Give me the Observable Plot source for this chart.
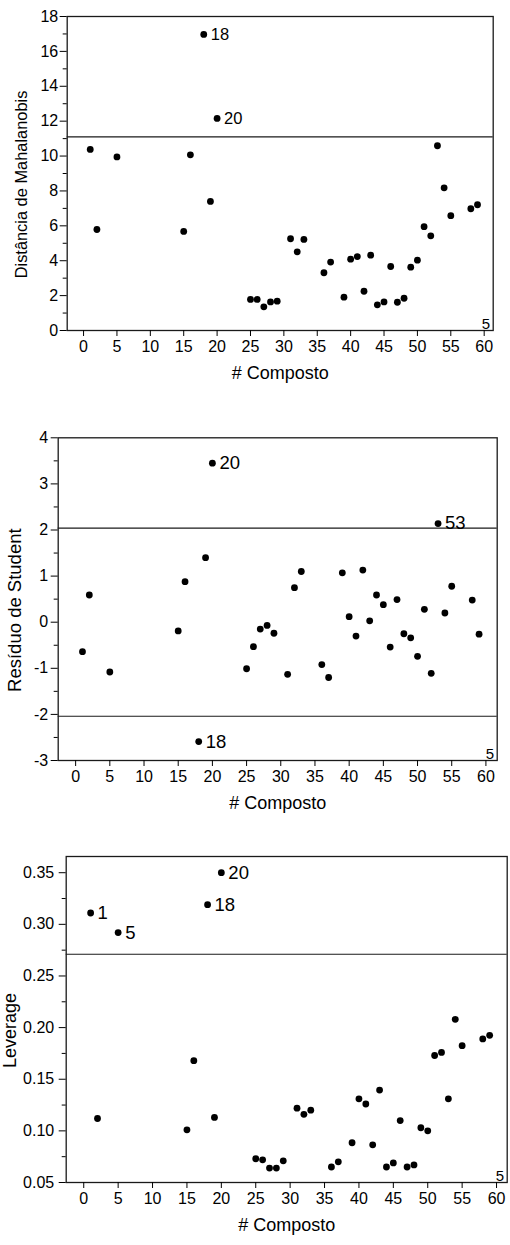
<!DOCTYPE html>
<html>
<head>
<meta charset="utf-8">
<script src="https://cdn.jsdelivr.net/npm/d3@7"></script>
<script src="https://cdn.jsdelivr.net/npm/@observablehq/plot@0.6"></script>
<style>
  html, body { margin: 0; padding: 0; background: #fff; }
  #chart { width: 510px; height: 1245px; overflow: hidden; }
  #chart svg { display: block; }
</style>
</head>
<body>
<div id="chart"></div>
<script>
// ---- data ----
const compounds = [1, 2, 5, 15, 16, 18, 19, 20, 25, 26, 27, 28, 29, 31, 32, 33, 36, 37, 39, 40, 41, 42, 43, 44, 45, 46, 47, 48, 49, 50, 51, 52, 53, 54, 55, 58, 59];
const mahalanobis = [10.38, 5.79, 9.95, 5.68, 10.07, 16.97, 7.40, 12.16, 1.78, 1.78, 1.36, 1.64, 1.68, 5.26, 4.51, 5.22, 3.31, 3.92, 1.91, 4.09, 4.24, 2.25, 4.32, 1.47, 1.64, 3.67, 1.62, 1.85, 3.63, 4.03, 5.95, 5.43, 10.59, 8.18, 6.58, 6.98, 7.21];
const student = [-0.64, 0.59, -1.08, -0.19, 0.88, -2.59, 1.40, 3.45, -1.01, -0.53, -0.15, -0.07, -0.24, -1.13, 0.75, 1.10, -0.92, -1.20, 1.07, 0.12, -0.30, 1.13, 0.03, 0.59, 0.38, -0.54, 0.49, -0.25, -0.34, -0.74, 0.28, -1.11, 2.14, 0.20, 0.78, 0.48, -0.26];
const leverage = [0.311, 0.112, 0.292, 0.101, 0.168, 0.319, 0.113, 0.350, 0.073, 0.072, 0.064, 0.064, 0.071, 0.122, 0.116, 0.120, 0.065, 0.070, 0.0885, 0.131, 0.126, 0.0865, 0.1395, 0.065, 0.069, 0.110, 0.065, 0.067, 0.103, 0.100, 0.173, 0.176, 0.131, 0.208, 0.1825, 0.189, 0.1925];

const mahalanobisLabeled = [18, 20];
const studentLabeled = [20, 53, 18];
const leverageLabeled = [1, 5, 18, 20];

const mahalanobisLimit = [11.1];
const studentLimits = [2.04, -2.04];
const leverageLimit = [0.271];

const xTicks = [0, 5, 10, 15, 20, 25, 30, 35, 40, 45, 50, 55, 60];
const mahalanobisTicks = [0, 2, 4, 6, 8, 10, 12, 14, 16, 18];
const mahalanobisMinor = [1, 3, 5, 7, 9, 11, 13, 15, 17];
const studentTicks = [-3, -2, -1, 0, 1, 2, 3, 4];
const studentMinor = [-2.5, -1.5, -0.5, 0.5, 1.5, 2.5, 3.5];
const leverageTicks = [0.05, 0.10, 0.15, 0.20, 0.25, 0.30, 0.35];
const leverageMinor = [0.075, 0.125, 0.175, 0.225, 0.275, 0.325];

const xLabel = "# Composto";
const cornerNote = "5";

const FONT = "'Liberation Sans', Arial, Helvetica, sans-serif";

function panel(o) {
  const rows = compounds.map((c, i) => ({c, v: o.values[i]}));
  return Plot.plot({
    width: 510,
    height: o.height,
    marginTop: o.mt, marginBottom: o.mb, marginLeft: o.ml, marginRight: o.mr,
    style: {fontFamily: FONT, fontSize: "16px", color: "#000", background: "#fff"},
    x: {domain: o.xDomain, axis: null},
    y: {domain: o.yDomain, axis: null},
    marks: [
      Plot.ruleY(o.limits, {stroke: "#1a1a1a", strokeWidth: 1.1}),
      Plot.frame({stroke: "#1a1a1a", strokeWidth: 1.3}),
      Plot.axisX({ticks: xTicks, tickSize: 6, tickPadding: 4, label: null, fontSize: 16}),
      Plot.axisY({ticks: o.yTicks, tickSize: 7, tickPadding: o.yPad, tickFormat: o.fmt, label: null, fontSize: 16}),
      Plot.axisY({ticks: o.yMinor, tickSize: 4, tickFormat: () => "", label: null}),
      Plot.dot(rows, {x: "c", y: "v", r: 3.4, fill: "#000"}),
      Plot.text(rows.filter(d => o.labeled.includes(d.c)), {x: "c", y: "v", text: d => String(d.c), dx: 7, textAnchor: "start", fontSize: o.annot}),
      Plot.text([cornerNote], {text: d => d, frameAnchor: "bottom-right", dx: -3, dy: -2, textAnchor: "end", lineAnchor: "bottom", fontSize: 15}),
      Plot.text([o.yLabel], {text: d => d, frameAnchor: "left", textAnchor: "middle", dx: o.yLabelDx, dy: 11, rotate: -90, fontSize: o.yLabelSize}),
      Plot.text([xLabel], {text: d => d, frameAnchor: "bottom", textAnchor: "middle", dy: 48, fontSize: 18})
    ]
  });
}

const chart = document.getElementById("chart");
chart.appendChild(panel({
  values: mahalanobis, labeled: mahalanobisLabeled, limits: mahalanobisLimit,
  height: 400, mt: 16, mb: 70, ml: 66.7, mr: 17.3,
  xDomain: [-2.45, 61.35], yDomain: [0, 18],
  yTicks: mahalanobisTicks, yMinor: mahalanobisMinor, fmt: d => String(d), yPad: 2,
  yLabel: "Distância de Mahalanobis", yLabelDx: -45.7, yLabelSize: 16.4, annot: 16.5
}));
chart.appendChild(panel({
  values: student, labeled: studentLabeled, limits: studentLimits,
  height: 430, mt: 37.3, mb: 70, ml: 57.7, mr: 13.3,
  xDomain: [-2.55, 61.65], yDomain: [-3, 4],
  yTicks: studentTicks, yMinor: studentMinor, fmt: d => String(d), yPad: 3,
  yLabel: "Resíduo de Student", yLabelDx: -43, yLabelSize: 18.5, annot: 18.5
}));
chart.appendChild(panel({
  values: leverage, labeled: leverageLabeled, limits: leverageLimit,
  height: 415, mt: 26, mb: 63, ml: 65.7, mr: 3.3,
  xDomain: [-2.55, 61.55], yDomain: [0.05, 0.3657],
  yTicks: leverageTicks, yMinor: leverageMinor, fmt: d3.format(".2f"), yPad: 5,
  yLabel: "Leverage", yLabelDx: -56.3, yLabelSize: 18, annot: 18.5
}));
</script>
</body>
</html>
